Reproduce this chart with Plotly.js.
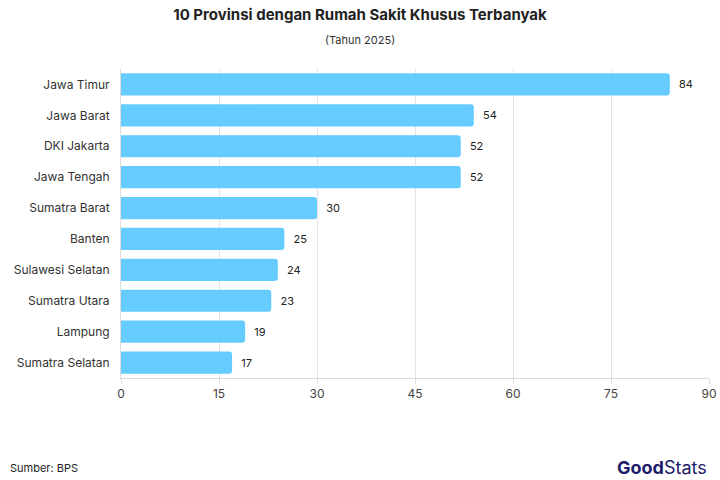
<!DOCTYPE html>
<html>
<head>
<meta charset="utf-8">
<script src="https://cdn.plot.ly/plotly-3.0.1.min.js"></script>
<style>html,body{margin:0;padding:0;background:#fff;}#chart{width:720px;height:480px;}</style>
</head>
<body>
<div id="chart"></div>
<script>
const provinces = ["Jawa Timur","Jawa Barat","DKI Jakarta","Jawa Tengah","Sumatra Barat","Banten","Sulawesi Selatan","Sumatra Utara","Lampung","Sumatra Selatan"];
const counts = [84,54,52,52,30,25,24,23,19,17];
const xTicks = [0,15,30,45,60,75,90];

const trace = {
  type: "bar",
  orientation: "h",
  y: provinces,
  x: counts,
  text: counts.map(v => "\u00a0\u00a0" + v),
  textposition: "outside",
  textfont: {family: "Inter, sans-serif", size: 11, color: "#222"},
  cliponaxis: false,
  width: 0.72,
  marker: {color: "#66CCFF", cornerradius: 3},
  hoverinfo: "none"
};

const layout = {
  width: 720, height: 480,
  margin: {l: 121, r: 11, t: 69, b: 102},
  paper_bgcolor: "#fff", plot_bgcolor: "#fff",
  font: {family: "Inter, sans-serif", color: "#333"},
  showlegend: false,
  title: {
    text: "<b>10 Provinsi dengan Rumah Sakit Khusus Terbanyak</b>",
    x: 0.5, xanchor: "center", y: 0.97, yanchor: "middle",
    font: {family: "Inter, sans-serif", size: 15, color: "#222"}
  },
  xaxis: {
    range: [0, 90],
    tickvals: xTicks,
    ticktext: xTicks.map(String),
    showgrid: true, gridcolor: "#e3e3e3", gridwidth: 1,
    zeroline: false,
    showline: true, linecolor: "#dcdcdc", linewidth: 1,
    ticks: "outside", tickcolor: "#dcdcdc", ticklen: 5,
    tickfont: {size: 12, color: "#444"},
    fixedrange: true
  },
  yaxis: {
    autorange: "reversed",
    tickfont: {size: 12, color: "#333"},
    ticks: "", ticklabelstandoff: 8,
    showline: true, linecolor: "#dcdcdc", linewidth: 1,
    showgrid: false,
    fixedrange: true
  },
  annotations: [
    {text: "(Tahun 2025)", xref: "paper", yref: "paper", x: (360 - 121) / 588, y: 1.065, xanchor: "center", yanchor: "bottom",
     showarrow: false, font: {size: 11, color: "#333"}},
    {text: "Sumber: BPS", xref: "paper", yref: "paper", x: -121/588, xshift: 8, y: 0, yshift: -90, xanchor: "left", yanchor: "middle",
     showarrow: false, font: {size: 11, color: "#222"}},
    {text: "<b>Good</b>Stats", xref: "paper", yref: "paper", x: 1, y: 0, yshift: -89, xanchor: "right", yanchor: "middle",
     showarrow: false, font: {size: 18, color: "#1c1c6b", family: "Inter, sans-serif"}}
  ]
};

Plotly.newPlot("chart", [trace], layout, {displayModeBar: false, staticPlot: true});
</script>
</body>
</html>
